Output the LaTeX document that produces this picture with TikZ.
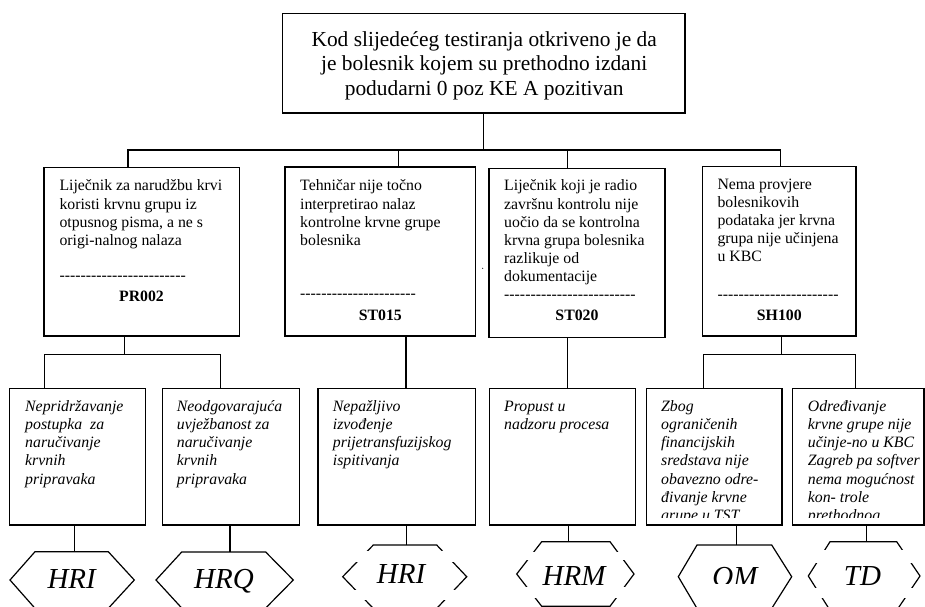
\documentclass[tikz,border=0pt]{standalone}
\usepackage{fontspec}
\setmainfont{Liberation Serif}[Ligatures=TeXOff]
\tikzset{
  box/.style={draw, line width=1.6pt, inner sep=0pt},
  conn/.style={line width=1.2pt},
  hexl/.style={line width=1.2pt, line join=miter},
  desc/.style={anchor=base west, align=left, inner sep=0pt, font=\fontsize{15.8}{18.2}\selectfont},
  idesc/.style={anchor=base west, align=left, inner sep=0pt, font=\fontsize{15.8}{18.3}\selectfont\itshape},
  dashrow/.style={anchor=base west, inner sep=0pt, font=\fontsize{15.8}{18}\selectfont},
  code/.style={anchor=base, inner sep=0pt, font=\fontsize{15.8}{18}\selectfont\bfseries},
  hexlab/.style={anchor=base, inner sep=0pt, font=\fontsize{29}{32}\selectfont\itshape},
  gapband/.style={fill=white, draw=none}
}
\def\dq{----}
\begin{document}
\begin{tikzpicture}[x=1pt,y=-1pt]
\useasboundingbox (0,0) rectangle (925,606);
\clip (0,0) rectangle (925,606);
% top box
\node[box, minimum width=402.3pt, minimum height=99.4pt] (top) at (483.8,63) {};
% (base anchor of a multi-line node = baseline of its last line)
\node[anchor=base, align=center, inner sep=0pt, font=\fontsize{21.4}{24.2}\selectfont] (toptext) at (484.2,95.1)
  {Kod slijedećeg testiranja otkriveno je da\\ je bolesnik kojem su prethodno izdani\\ podudarni 0 poz KE A pozitivan};
% level 2 boxes
\node[box, minimum width=195.6pt, minimum height=168.7pt] (b1) at (141.5,251.7) {};
\node[box, minimum width=190.7pt, minimum height=169pt] (b2) at (380.3,251.5) {};
\node[box, minimum width=176pt, minimum height=169pt] (b3) at (577,252.8) {};
\node[box, minimum width=153.3pt, minimum height=169.3pt] (b4) at (779.3,251.3) {};
\node[desc] (t1) at (59.3,245.4) {Liječnik za narudžbu krvi\\ koristi krvnu grupu iz\\ otpusnog pisma, a ne s\\ origi-nalnog nalaza};
\node[desc] (t2) at (300,245.4) {Tehničar nije točno\\ interpretirao nalaz\\ kontrolne krvne grupe\\ bolesnika};
\node[desc] (t3) at (504,281.8) {Liječnik koji je radio\\ završnu kontrolu nije\\ uočio da se kontrolna\\ krvna grupa bolesnika\\ razlikuje od\\ dokumentacije};
\node[desc] (t4) at (717.3,261.8) {Nema provjere\\ bolesnikovih\\ podataka jer krvna\\ grupa nije učinjena\\ u KBC};
\node[dashrow] (r1) at (59.3,280.3) {\dq\dq\dq\dq\dq\dq};
\node[dashrow] (r2) at (300,298.6) {\dq\dq\dq\dq\dq--};
\node[dashrow] (r3) at (504,299.6) {\dq\dq\dq\dq\dq\dq-};
\node[dashrow] (r4) at (717.3,299.6) {\dq\dq\dq\dq\dq---};
\node[code] (p1) at (141.5,301.7) {PR002};
\node[code] (p2) at (380.3,320) {ST015};
\node[code] (p3) at (577,320.5) {ST020};
\node[code] (p4) at (779.3,320) {SH100};
\fill (482.7,268.3) circle (0.6pt);
% level 3 boxes
\node[box, minimum width=136pt, minimum height=136.7pt] (c1) at (77.5,456.7) {};
\node[box, minimum width=137pt, minimum height=136.7pt] (c2) at (230.8,456.7) {};
\node[box, minimum width=157.6pt, minimum height=136.7pt] (c3) at (396.8,456.7) {};
\node[box, minimum width=146.3pt, minimum height=136.7pt] (c4) at (562.5,456.7) {};
\node[box, minimum width=135.1pt, minimum height=136.7pt] (c5) at (714.2,456.7) {};
\node[box, minimum width=131.7pt, minimum height=136.7pt] (c6) at (858.2,456.7) {};
\node[idesc] (u1) at (25,484.2) {Nepridržavanje\\ postupka\ \ za\\ naručivanje\\ krvnih\\ pripravaka};
\node[idesc] (u2) at (176.7,484.2) {Neodgovarajuća\\ uvježbanost za\\ naručivanje\\ krvnih\\ pripravaka};
\node[idesc] (u3) at (332.7,465.9) {Nepažljivo\\ izvođenje\\ prijetransfuzijskog\\ ispitivanja};
\node[idesc] (u4) at (504,429.3) {Propust u\\ nadzoru procesa};
\begin{scope}
\clip (640,380) rectangle (925,517);
\node[idesc] (u5) at (661,520.8) {Zbog\\ ograničenih\\ financijskih\\ sredstava nije\\ obavezno odre-\\ đivanje krvne\\ grupe u TST};
\node[idesc] (u6) at (807.7,520.8) {Određivanje\\ krvne grupe nije\\ učinje-no u KBC\\ Zagreb pa softver\\ nema mogućnost\\ kon- trole\\ prethodnog};
\end{scope}
% connectors level 1 -> 2
\coordinate (k1) at (128,150);
\coordinate (k2) at (398.5,150);
\coordinate (k3) at (567.7,150);
\coordinate (k4) at (780.7,150);
\draw[conn] (top.south) -- (top.south |- k1);
\draw[conn] (b1.north -| k1) -- (k1) -- (k4) -- (b4.north -| k4);
\draw[conn] (k2) -- (b2.north -| k2);
\draw[conn] (k3) -- (b3.north -| k3);
% connectors level 2 -> 3
\coordinate (m1) at (124.7,354.3);
\coordinate (m1a) at (44.3,354.3);
\coordinate (m1b) at (220.5,354.3);
\draw[conn] (b1.south -| m1) -- (m1);
\draw[conn] (c1.north -| m1a) -- (m1a) -- (m1b) -- (c2.north -| m1b);
\coordinate (m2) at (406,354.3);
\draw[conn] (b2.south -| m2) -- (c3.north -| m2);
\coordinate (m3) at (567.7,354.3);
\draw[conn] (b3.south -| m3) -- (c4.north -| m3);
\coordinate (m4) at (781.7,354.3);
\coordinate (m4a) at (703.2,354.3);
\coordinate (m4b) at (855.5,354.3);
\draw[conn] (b4.south -| m4) -- (m4);
\draw[conn] (c5.north -| m4a) -- (m4a) -- (m4b) -- (c6.north -| m4b);
% hexagons
\draw[hexl] (10,580) -- (35,551.7) -- (108.3,551.7) -- (134.3,580) -- (108.3,608.3) -- (35,608.3) -- cycle;
\draw[hexl] (156,580) -- (181.7,552) -- (265.7,552) -- (293.3,580) -- (265.7,608) -- (181.7,608) -- cycle;
\draw[hexl] (342.7,576.7) -- (373.3,545) -- (436.7,545) -- (466.7,576.7) -- (436.7,608.4) -- (373.3,608.4) -- cycle;
\draw[hexl] (516.7,574) -- (541.7,541.7) -- (610,541.7) -- (634,574) -- (610,606.3) -- (541.7,606.3) -- cycle;
\draw[hexl] (678.3,576.7) -- (697,545) -- (771.7,545) -- (791.7,576.7) -- (771.7,608.4) -- (697,608.4) -- cycle;
\draw[hexl] (808.3,576) -- (830,541.7) -- (896.7,541.7) -- (920,576) -- (896.7,610.3) -- (830,610.3) -- cycle;
% small breaks in some hexagon outlines
\fill[gapband] (338,550.5) rectangle (471,561.7);
\fill[gapband] (338,590) rectangle (471,600);
\fill[gapband] (512,551.7) rectangle (638,560);
\fill[gapband] (512,587) rectangle (638,598.3);
\fill[gapband] (804,550) rectangle (924,563);
\fill[gapband] (804,588) rectangle (924,598);
% connectors level 3 -> hexagons
\coordinate (h1t) at (74.7,551.7);
\coordinate (h2t) at (230,552);
\coordinate (h3t) at (406.7,545);
\coordinate (h4t) at (568.3,541.7);
\coordinate (h5t) at (736.7,545);
\coordinate (h6t) at (866.7,541.7);
\draw[conn] (c1.south -| h1t) -- (h1t);
\draw[conn] (c2.south -| h2t) -- (h2t);
\draw[conn] (c3.south -| h3t) -- (h3t);
\draw[conn] (c4.south -| h4t) -- (h4t);
\draw[conn] (c5.south -| h5t) -- (h5t);
\draw[conn] (c6.south -| h6t) -- (h6t);
% hexagon labels
\node[hexlab] (l1) at (71.7,588.3) {HRI};
\node[hexlab] (l2) at (224,588.3) {HRQ};
\node[hexlab] (l3) at (401,583.3) {HRI};
\node[hexlab] (l4) at (574,585) {HRM};
\begin{scope}
\clip (670,540) rectangle (800,583.3);
\node[hexlab] (l5) at (735,586.7) {OM};
\end{scope}
\node[hexlab] (l6) at (862.5,585) {TD};
\end{tikzpicture}
\end{document}
